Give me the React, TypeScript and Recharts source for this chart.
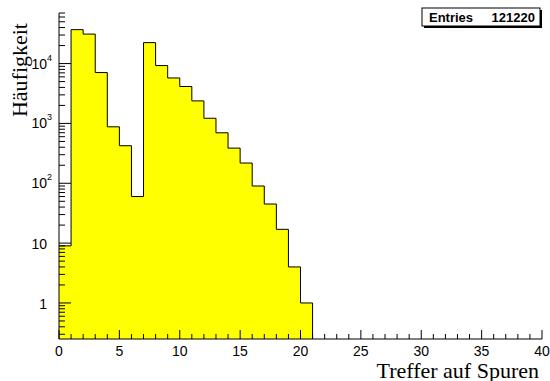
import { ComposedChart, Area, XAxis, YAxis } from "recharts";

// histogram: hits per track, bin width 1 starting at 0
const binStart = 0;
const binWidth = 1;
const counts = [
  9, 36900, 31100, 7080, 878, 424, 60, 22400, 9260, 5750, 4140,
  2380, 1220, 697, 387, 218, 90, 45, 17, 4, 1,
];
const entries = 121220;

const xMajorTicks = [0, 5, 10, 15, 20, 25, 30, 35, 40];
const xMinorStep = 1;
const yDecades = [0.1, 1, 10, 100, 1000, 10000];
const yMantissas = [1, 2, 3, 4, 5, 6, 7, 8, 9];
const yMin = 0.25;
const yMax = 70000;

const xTicks: number[] = [];
for (let v = xMajorTicks[0]; v <= xMajorTicks[xMajorTicks.length - 1]; v += xMinorStep) xTicks.push(v);

const yTicks: number[] = [];
yDecades.forEach((d) => yMantissas.forEach((m) => {
  const v = d * m;
  if (v >= yMin && v <= yMax) yTicks.push(v);
}));

const data = counts.map((c, i) => ({ x: binStart + i * binWidth, count: c }));
data.push({ x: binStart + counts.length * binWidth, count: yMin });

const sans = "'Liberation Sans', Arial, Helvetica, sans-serif";
const serif = "'Liberation Serif', 'Times New Roman', serif";

const isMajorY = (v: number) => {
  const l = Math.log10(v);
  return Math.abs(l - Math.round(l)) < 1e-6;
};

const XTick = (props: any) => {
  const { x, y, payload } = props;
  const v = payload.value;
  const major = xMajorTicks.includes(v);
  return (
    <g>
      <line x1={x} x2={x} y1={y} y2={y - (major ? 9 : 5)} stroke="#000" />
      {major && (
        <text x={x} y={y + 16.5} textAnchor="middle" fontSize={14} fontFamily={sans} fill="#000">
          {v}
        </text>
      )}
    </g>
  );
};

const YTick = (props: any) => {
  const { x, y, payload } = props;
  const v = payload.value;
  const major = isMajorY(v);
  const exp = Math.round(Math.log10(v));
  return (
    <g>
      <line x1={x} x2={x + (major ? 12 : 6)} y1={y} y2={y} stroke="#000" />
      {major && exp <= 1 && (
        <text x={x - 12} y={y + 6} textAnchor="end" fontSize={14} fontFamily={sans} fill="#000">
          {exp === 0 ? "1" : "10"}
        </text>
      )}
      {major && exp > 1 && (
        <g>
          <text x={x - 12} y={y + 5} textAnchor="end" fontSize={14} fontFamily={sans} fill="#000">
            10
          </text>
          <text x={x - 12} y={y - 3} textAnchor="start" fontSize={9} fontFamily={sans} fill="#000">
            {exp}
          </text>
        </g>
      )}
    </g>
  );
};

export default function App() {
  return (
    <div style={{ position: "absolute", left: 0, top: 0, width: 550, height: 381, background: "#fff" }}>
      <ComposedChart width={550} height={381} data={data} margin={{ top: 13, right: 8, bottom: 0, left: 0 }}>
        <XAxis
          dataKey="x"
          type="number"
          domain={[0, 40]}
          ticks={xTicks}
          interval={0}
          tickLine={false}
          tickSize={0}
          tickMargin={0}
          height={42}
          axisLine={{ stroke: "#000" }}
          tick={<XTick />}
        />
        <XAxis xAxisId="top" orientation="top" dataKey="x" type="number" domain={[0, 40]} height={0} tick={false} tickLine={false} axisLine={{ stroke: "#000" }} />
        <YAxis
          type="number"
          scale="log"
          domain={[yMin, yMax]}
          allowDataOverflow
          ticks={yTicks}
          interval={0}
          tickLine={false}
          tickSize={0}
          tickMargin={0}
          width={59}
          axisLine={{ stroke: "#000" }}
          tick={<YTick />}
        />
        <YAxis yAxisId="right" orientation="right" width={0} tick={false} tickLine={false} axisLine={{ stroke: "#000" }} />
        <Area
          type="stepAfter"
          dataKey="count"
          stroke="#000"
          strokeWidth={1}
          fill="#ffff00"
          fillOpacity={1}
          baseValue={yMin}
          dot={false}
          activeDot={false}
          isAnimationActive={false}
        />
      </ComposedChart>
      <svg width={550} height={381} style={{ position: "absolute", left: 0, top: 0, pointerEvents: "none" }}>
        <rect x={424} y={10} width={118} height={18} fill="#000" />
        <rect x={422} y={8} width={118} height={18} fill="#fff" stroke="#000" strokeWidth={1} />
        <text x={429} y={22} fontSize={13} fontWeight="bold" fontFamily={sans} fill="#000">
          Entries
        </text>
        <text x={535} y={22} textAnchor="end" fontSize={13} fontWeight="bold" fontFamily={sans} fill="#000">
          {entries}
        </text>
        <text x={27} y={23} transform="rotate(-90 27 23)" textAnchor="end" fontSize={22} fontFamily={serif} fill="#000">
          Häufigkeit
        </text>
        <text x={539} y={377.5} textAnchor="end" fontSize={22} fontFamily={serif} fill="#000">
          Treffer auf Spuren
        </text>
      </svg>
    </div>
  );
}
